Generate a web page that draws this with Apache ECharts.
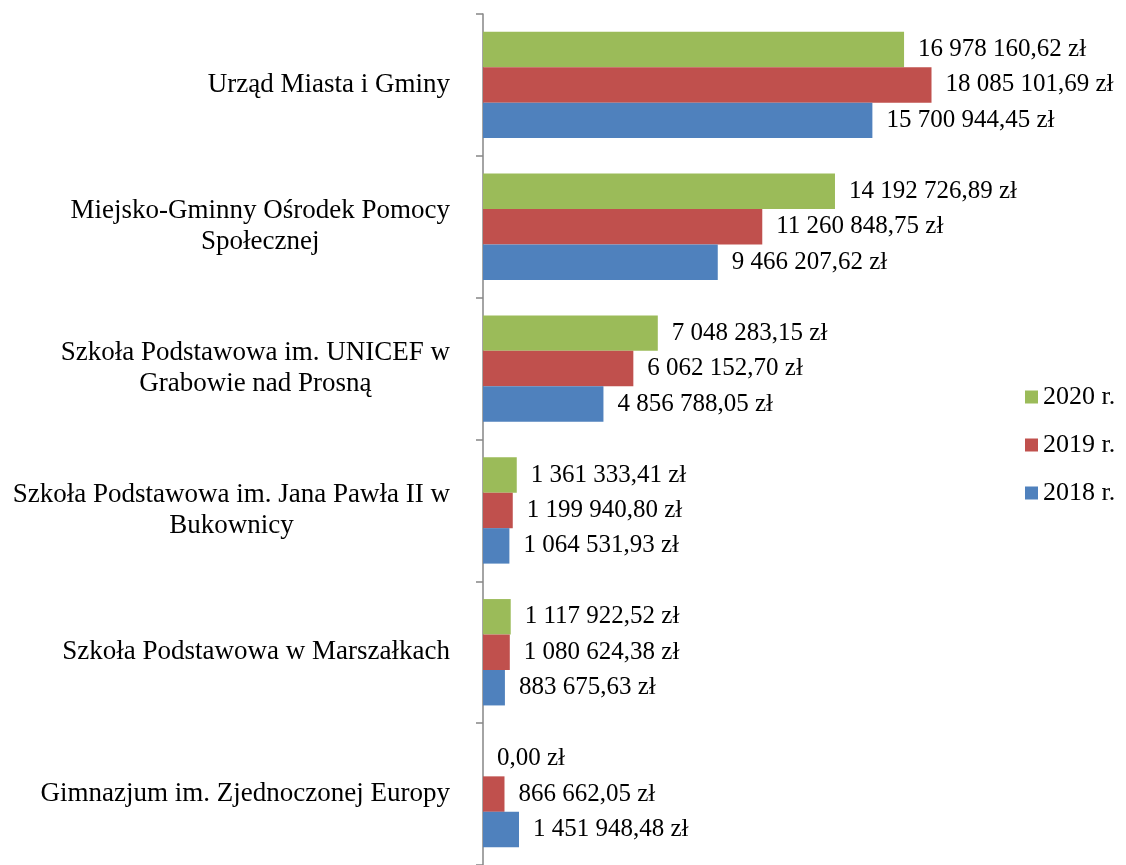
<!DOCTYPE html>
<html>
<head>
<meta charset="utf-8">
<script src="https://cdn.jsdelivr.net/npm/echarts@6/dist/echarts.min.js"></script>
<style>
  html, body { margin: 0; padding: 0; background: #fff; }
  #chart { width: 1126px; height: 865px; }
</style>
</head>
<body>
<div id="chart"></div>
<script>
const categories = [
  'Urząd Miasta i Gminy',
  'Miejsko-Gminny Ośrodek Pomocy\nSpołecznej',
  'Szkoła Podstawowa im. UNICEF w\nGrabowie nad Prosną',
  'Szkoła Podstawowa im. Jana Pawła II w\nBukownicy',
  'Szkoła Podstawowa w Marszałkach',
  'Gimnazjum im. Zjednoczonej Europy'
];
const values2020 = [16978160.62, 14192726.89, 7048283.15, 1361333.41, 1117922.52, 0];
const values2019 = [18085101.69, 11260848.75, 6062152.70, 1199940.80, 1080624.38, 866662.05];
const values2018 = [15700944.45, 9466207.62, 4856788.05, 1064531.93, 883675.63, 1451948.48];

const FONT = '"Liberation Serif", "DejaVu Serif", serif';

// 1234567.8 -> "1 234 567,80 zł"
const fmt = v => {
  const parts = v.toFixed(2).split('.');
  const int = parts[0].replace(/\B(?=(\d{3})+(?!\d))/g, ' ');
  return int + ',' + parts[1] + ' zł';
};

const makeSeries = (name, data, color) => ({
  name: name,
  type: 'bar',
  data: data,
  barGap: '0%',
  barCategoryGap: '25%',
  itemStyle: { color: color },
  label: {
    show: true,
    position: 'right',
    distance: 14,
    color: '#000',
    fontFamily: FONT,
    fontSize: 25,
    formatter: p => fmt(p.value)
  }
});

const chart = echarts.init(document.getElementById('chart'));
chart.setOption({
  animation: false,
  grid: { left: 483, top: 14, width: 496, height: 852, containLabel: false },
  legend: {
    orient: 'vertical',
    left: 1020,
    top: 379,
    itemWidth: 13,
    itemHeight: 13,
    itemGap: 22,
    icon: 'rect',
    data: ['2020 r.', '2019 r.', '2018 r.'],
    textStyle: { fontFamily: FONT, fontSize: 26, color: '#000' }
  },
  xAxis: {
    type: 'value',
    min: 0,
    max: 20000000,
    show: false
  },
  yAxis: {
    type: 'category',
    inverse: true,
    data: categories,
    axisLine: { show: true, lineStyle: { color: '#868686', width: 1.5 } },
    axisTick: { show: true, length: 7, lineStyle: { color: '#868686', width: 1.5 } },
    axisLabel: {
      margin: 33,
      color: '#000',
      fontFamily: FONT,
      fontSize: 27,
      lineHeight: 31,
      formatter: v => v.split('\n').map(l => '{c|' + l + '}').join('\n'),
      rich: {
        c: { align: 'center', fontFamily: FONT, fontSize: 27, lineHeight: 31, color: '#000' }
      }
    }
  },
  series: [
    makeSeries('2020 r.', values2020, '#9BBB59'),
    makeSeries('2019 r.', values2019, '#C0504D'),
    makeSeries('2018 r.', values2018, '#4F81BD')
  ]
});
</script>
</body>
</html>
